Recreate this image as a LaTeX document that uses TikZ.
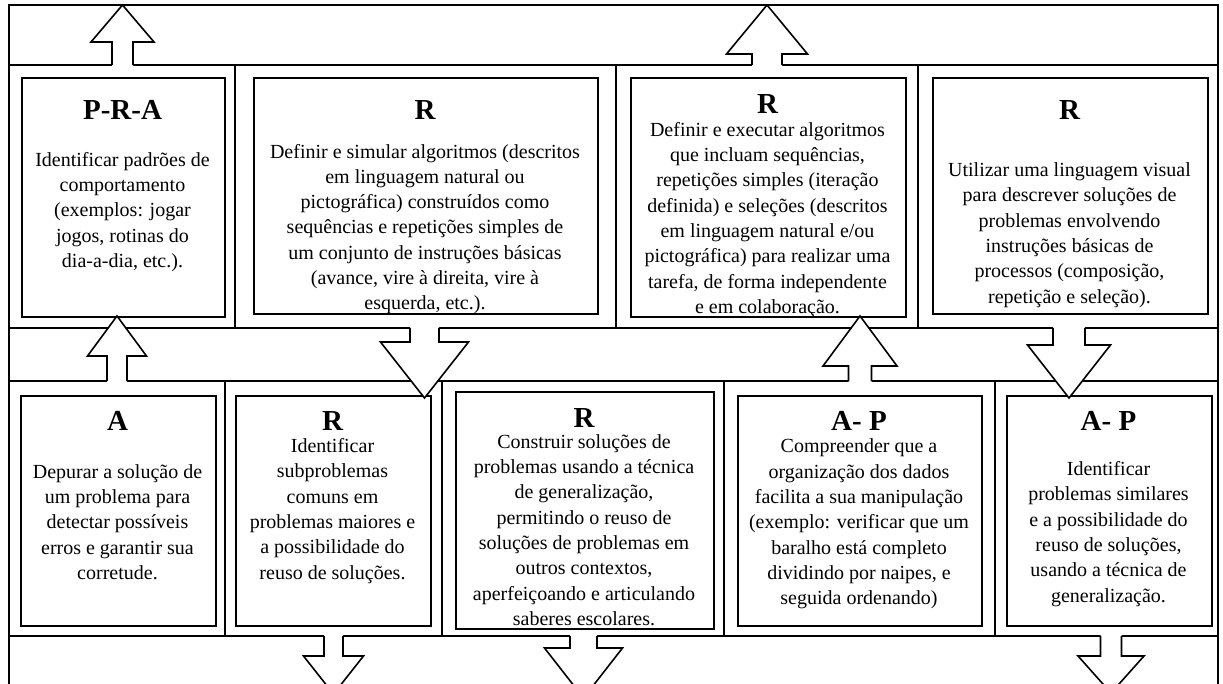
\documentclass[tikz,border=0pt]{standalone}
\usepackage{fontspec}
\setmainfont{Liberation Serif}
\newcommand{\blockarr}[6]{%
  \pgfmathsetmacro\bae{#2+((#2>#4)?2:-2)}%
  \fill[white] (#1-#6,\bae) -- (#1-#6,#3) -- (#1-#5,#3) -- (#1,#4) -- (#1+#5,#3) -- (#1+#6,#3) -- (#1+#6,\bae) -- cycle;
  \draw[blk] (#1-#6,#2) -- (#1-#6,#3) -- (#1-#5,#3) -- (#1,#4) -- (#1+#5,#3) -- (#1+#6,#3) -- (#1+#6,#2);
}
\begin{document}
\begin{tikzpicture}[x=1pt,y=-1pt,
  cell/.style={draw=black, line width=1.5pt},
  inbox/.style={draw=black, line width=2.3pt, inner sep=0pt, anchor=north west},
  head/.style={font=\fontsize{29}{31}\selectfont\bfseries, inner sep=0pt},
  body/.style={font=\fontsize{20}{25.3}\selectfont, align=center, inner sep=0pt},
  blk/.style={draw=black, line width=1.6pt, line join=miter}]
\useasboundingbox (0,0) rectangle (1223,684);
\fill[white] (0,0) rectangle (1223,684);
\clip (0,0) rectangle (1223,684);
% frame
\draw[cell] (9,700) -- (9,5) -- (1218,5) -- (1218,700);
% row 1 cells
\draw[cell] (9,65) rectangle (235,328);
\draw[cell] (235,65) rectangle (616,328);
\draw[cell] (616,65) rectangle (918,328);
\draw[cell] (918,65) rectangle (1218,328);
% row 2 cells
\draw[cell] (9,381) rectangle (225,636);
\draw[cell] (225,381) rectangle (442,636);
\draw[cell] (442,381) rectangle (724,636);
\draw[cell] (724,381) rectangle (995,636);
\draw[cell] (995,381) rectangle (1218,636);
% inner boxes row 1
\node[inbox, minimum width=203pt, minimum height=239pt] (b11) at (21,77) {};
\node[inbox, minimum width=344pt, minimum height=236pt] (b12) at (253,77) {};
\node[inbox, minimum width=275pt, minimum height=239pt] (b13) at (630,77) {};
\node[inbox, minimum width=275pt, minimum height=236pt] (b14) at (932,77) {};
% inner boxes row 2
\node[inbox, minimum width=195pt, minimum height=230pt] (b21) at (20,395) {};
\node[inbox, minimum width=195pt, minimum height=230pt] (b22) at (235,395) {};
\node[inbox, minimum width=258pt, minimum height=237pt] (b23) at (455,391) {};
\node[inbox, minimum width=244pt, minimum height=230pt] (b24) at (737,395) {};
\node[inbox, minimum width=205pt, minimum height=230pt] (b25) at (1006,395) {};
% block arrows: cx, base, headbase, tip, headhalf, shafthalf
\blockarr{122.5}{65}{42}{5}{31.5}{10.5}
\blockarr{767}{65}{54}{5}{40.5}{15}
\blockarr{117}{381}{356}{316}{29.5}{10}
\blockarr{424.5}{328}{342}{398}{44}{14.5}
\blockarr{860}{381}{366}{316}{37}{11.5}
\blockarr{1069}{328}{345}{398}{41.5}{16}
\blockarr{333.5}{636}{656}{694}{30}{9.5}
\blockarr{583.5}{636}{648}{698}{39}{13.5}
\blockarr{1111}{636}{656}{693}{33}{10.5}
% row 1 texts
\node[head] (h11) at (122.5,110) {P-R-A};
\node[body] (t11) at (122.5,212) {Identificar padrões de\\comportamento\\(exemplos: jogar\\jogos, rotinas do\\dia-a-dia, etc.).};
\node[head] (h12) at (425,110) {R};
\node[body] (t12) at (425,229) {Definir e simular algoritmos (descritos\\em linguagem natural ou\\pictográfica) construídos como\\sequências e repetições simples de\\um conjunto de instruções básicas\\(avance, vire à direita, vire à\\esquerda, etc.).};
\node[head] (h13) at (767.5,104) {R};
\node[body] (t13) at (767.5,220) {Definir e executar algoritmos\\que incluam sequências,\\repetições simples (iteração\\definida) e seleções (descritos\\em linguagem natural e/ou\\pictográfica) para realizar uma\\tarefa, de forma independente\\e em colaboração.};
\node[head] (h14) at (1069.5,110) {R};
\node[body] (t14) at (1069.5,235) {Utilizar uma linguagem visual\\para descrever soluções de\\problemas envolvendo\\instruções básicas de\\processos (composição,\\repetição e seleção).};
% row 2 texts
\node[head] (h21) at (117.5,421) {A};
\node[body] (t21) at (117.5,522) {Depurar a solução de\\um problema para\\detectar possíveis\\erros e garantir sua\\corretude.};
\node[head] (h22) at (332.5,421) {R};
\node[body] (t22) at (332.5,511) {Identificar\\subproblemas\\comuns em\\problemas maiores e\\a possibilidade do\\reuso de soluções.};
\node[head] (h23) at (584,418) {R};
\node[body] (t23) at (584,530) {Construir soluções de\\problemas usando a técnica\\de generalização,\\permitindo o reuso de\\soluções de problemas em\\outros contextos,\\aperfeiçoando e articulando\\saberes escolares.};
\node[head] (h24) at (859,421) {A- P};
\node[body] (t24) at (859,524) {Compreender que a\\organização dos dados\\facilita a sua manipulação\\(exemplo: verificar que um\\baralho está completo\\dividindo por naipes, e\\seguida ordenando)};
\node[head] (h25) at (1108.5,421) {A- P};
\node[body] (t25) at (1108.5,534) {Identificar\\problemas similares\\e a possibilidade do\\reuso de soluções,\\usando a técnica de\\generalização.};
\end{tikzpicture}
\end{document}
